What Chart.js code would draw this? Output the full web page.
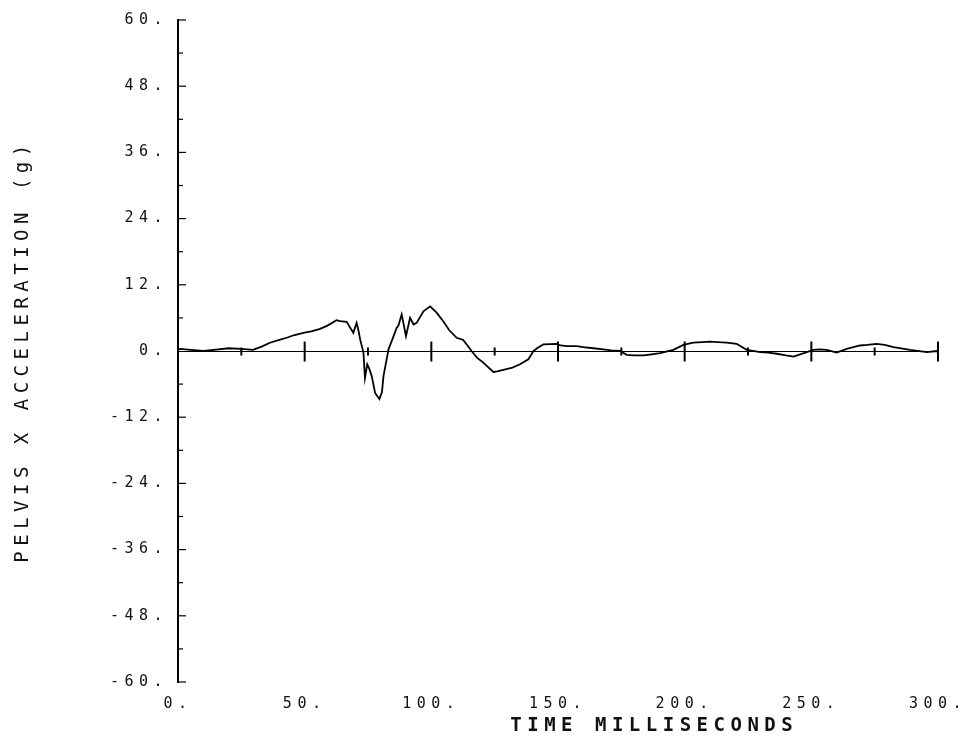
<!DOCTYPE html>
<html>
<head>
<meta charset="utf-8">
<script src="https://cdn.jsdelivr.net/npm/chart.js@4/dist/chart.umd.min.js"></script>
<style>
  html, body { margin: 0; padding: 0; background: #fff; }
  #wrap { width: 969px; height: 744px; position: relative; }
</style>
</head>
<body>
<div id="wrap"><canvas id="c" width="969" height="744"></canvas></div>
<script>
// ---- data ----
const timeMs = [
  0, 1, 5, 10, 16, 20, 25, 29.6, 33, 36.3,
  40, 42.9, 46, 49.5, 53, 56.1, 59, 62.6, 64, 66.6,
  68, 69.2, 70.5, 71.2, 71.9, 73.2, 73.8, 74.7, 75.5, 76.5,
  77.8, 79.5, 80.5, 81.1, 83.1, 85.1, 86.3, 87, 88.3, 90,
  91.6, 93, 94.2, 96, 96.9, 99.5, 102, 104.7, 107, 110,
  112.6, 115.9, 118, 120.5, 124.5, 126, 128.4, 132, 135, 138.3,
  140.3, 142, 144.2, 149.5, 151, 153.5, 157.4, 160, 164, 167.9,
  171, 174.5, 177.1, 180, 183.7, 187, 190.3, 195.5, 199.5, 203.4,
  207, 210, 213, 216.6, 220.5, 224.5, 229.8, 233, 236.4, 240,
  243, 248.2, 250.8, 253, 256.1, 260, 264, 269.2, 272, 275.8,
  279, 282.4, 289, 295.6, 299.5, 300
];
const pelvisAccel = [
  0.3, 0.4, 0.2, 0.0, 0.3, 0.5, 0.4, 0.2, 0.8, 1.5,
  2.0, 2.4, 2.9, 3.3, 3.6, 4.0, 4.6, 5.6, 5.4, 5.3,
  4.2, 3.3, 5.1, 3.8, 2.1, -0.3, -4.9, -2.4, -3.2, -4.6,
  -7.6, -8.7, -7.5, -4.6, 0.3, 2.7, 4.2, 4.6, 6.6, 2.7,
  6.0, 4.8, 5.1, 6.5, 7.2, 8.1, 7.0, 5.4, 3.8, 2.4,
  2.0, 0.0, -1.2, -2.1, -3.8, -3.7, -3.4, -3.0, -2.4, -1.5,
  0.0, 0.6, 1.2, 1.3, 1.0, 0.9, 0.9, 0.7, 0.5, 0.3,
  0.1, 0.0, -0.7, -0.8, -0.8, -0.6, -0.4, 0.2, 1.1, 1.5,
  1.6, 1.7, 1.6, 1.5, 1.3, 0.2, -0.2, -0.3, -0.5, -0.8,
  -1.0, -0.2, 0.2, 0.3, 0.2, -0.3, 0.4, 1.0, 1.1, 1.3,
  1.1, 0.7, 0.2, -0.2, 0.0, -0.3
];
const xTickValues = [0, 50, 100, 150, 200, 250, 300];
const yTickValues = [60, 48, 36, 24, 12, 0, -12, -24, -36, -48, -60];
const xMarkValues = [25, 50, 75, 100, 125, 150, 175, 200, 225, 250, 275, 300];
const yMarkValues = [60, 54, 48, 42, 36, 30, 24, 18, 12, 6, -6, -12, -18, -24, -30, -36, -42, -48, -54, -60];
const xTitle = 'TIME MILLISECONDS';
const yTitle = 'PELVIS X ACCELERATION (g)';

// ---- plugins ----
const SPACING = '5.5px';
const MONO = "'DejaVu Sans Mono', monospace";
const letterSpacing = {
  id: 'letterSpacing',
  beforeUpdate(chart) { chart.ctx.letterSpacing = SPACING; },
  beforeDraw(chart) { chart.ctx.letterSpacing = SPACING; }
};

const axisMarks = {
  id: 'axisMarks',
  afterDatasetsDraw(chart) {
    const { ctx, scales: { x, y } } = chart;
    const x0 = x.getPixelForValue(0);
    const y0 = Math.round(y.getPixelForValue(0)) + 0.5;
    ctx.save();
    ctx.strokeStyle = '#000';
    ctx.lineWidth = 1;
    ctx.beginPath();
    ctx.moveTo(x0, y0);
    ctx.lineTo(x.getPixelForValue(300), y0);
    ctx.stroke();
    ctx.lineWidth = 2;
    xMarkValues.forEach(v => {
      const px = x.getPixelForValue(v);
      const h = (v % 50 === 0) ? 10 : 4;
      ctx.beginPath();
      ctx.moveTo(px, y0 - h);
      ctx.lineTo(px, y0 + h);
      ctx.stroke();
    });
    ctx.lineWidth = 1.2;
    yMarkValues.forEach(v => {
      const py = y.getPixelForValue(v);
      const l = (v % 12 === 0) ? 8 : 5;
      ctx.beginPath();
      ctx.moveTo(x0, py);
      ctx.lineTo(x0 + l, py);
      ctx.stroke();
    });
    ctx.restore();
  }
};

// x-axis title sits right of the axis centre in the reference
const xAxisTitle = {
  id: 'xAxisTitle',
  afterDraw(chart) {
    const { ctx, scales: { x } } = chart;
    ctx.save();
    ctx.letterSpacing = SPACING;
    ctx.font = 'bold 19px ' + MONO;
    ctx.fillStyle = '#111';
    ctx.textAlign = 'center';
    ctx.textBaseline = 'middle';
    ctx.fillText(xTitle, x.getPixelForValue(188), 726);
    ctx.restore();
  }
};

const tickFont = { family: MONO, size: 15 };

new Chart(document.getElementById('c'), {
  type: 'line',
  data: {
    datasets: [{
      data: timeMs.map((t, i) => ({ x: t, y: pelvisAccel[i] })),
      borderColor: '#000',
      borderWidth: 1.8,
      pointRadius: 0,
      tension: 0,
      fill: false
    }]
  },
  options: {
    responsive: false,
    animation: false,
    devicePixelRatio: 1,
    layout: { autoPadding: false, padding: { top: 20, right: 31, left: 0, bottom: 0 } },
    plugins: { legend: { display: false }, tooltip: { enabled: false } },
    scales: {
      x: {
        type: 'linear',
        position: 'bottom',
        min: 0, max: 300,
        afterFit(s) { s.height = 62; s.paddingLeft = 0; s.paddingRight = 0; },
        afterBuildTicks(s) { s.ticks = xTickValues.map(v => ({ value: v })); },
        grid: { display: false, drawTicks: false },
        border: { display: false },
        ticks: { color: '#111', font: tickFont, padding: 13, maxRotation: 0, autoSkip: false,
                 callback: v => v + '.' },
        title: { display: false, text: xTitle }
      },
      y: {
        type: 'linear',
        position: 'left',
        min: -60, max: 60,
        afterFit(s) { s.width = 178; s.paddingTop = 0; s.paddingBottom = 0; },
        afterBuildTicks(s) { s.ticks = yTickValues.map(v => ({ value: v })); },
        grid: { display: false, drawTicks: false },
        border: { display: true, color: '#000', width: 2 },
        ticks: { color: '#111', font: tickFont, padding: 10, autoSkip: false,
                 callback: v => v + '.' },
        title: { display: true, text: yTitle, color: '#111', font: { family: MONO, size: 19 },
                 padding: { top: 12, bottom: 0 } }
      }
    }
  },
  plugins: [letterSpacing, axisMarks, xAxisTitle]
});
</script>
</body>
</html>
